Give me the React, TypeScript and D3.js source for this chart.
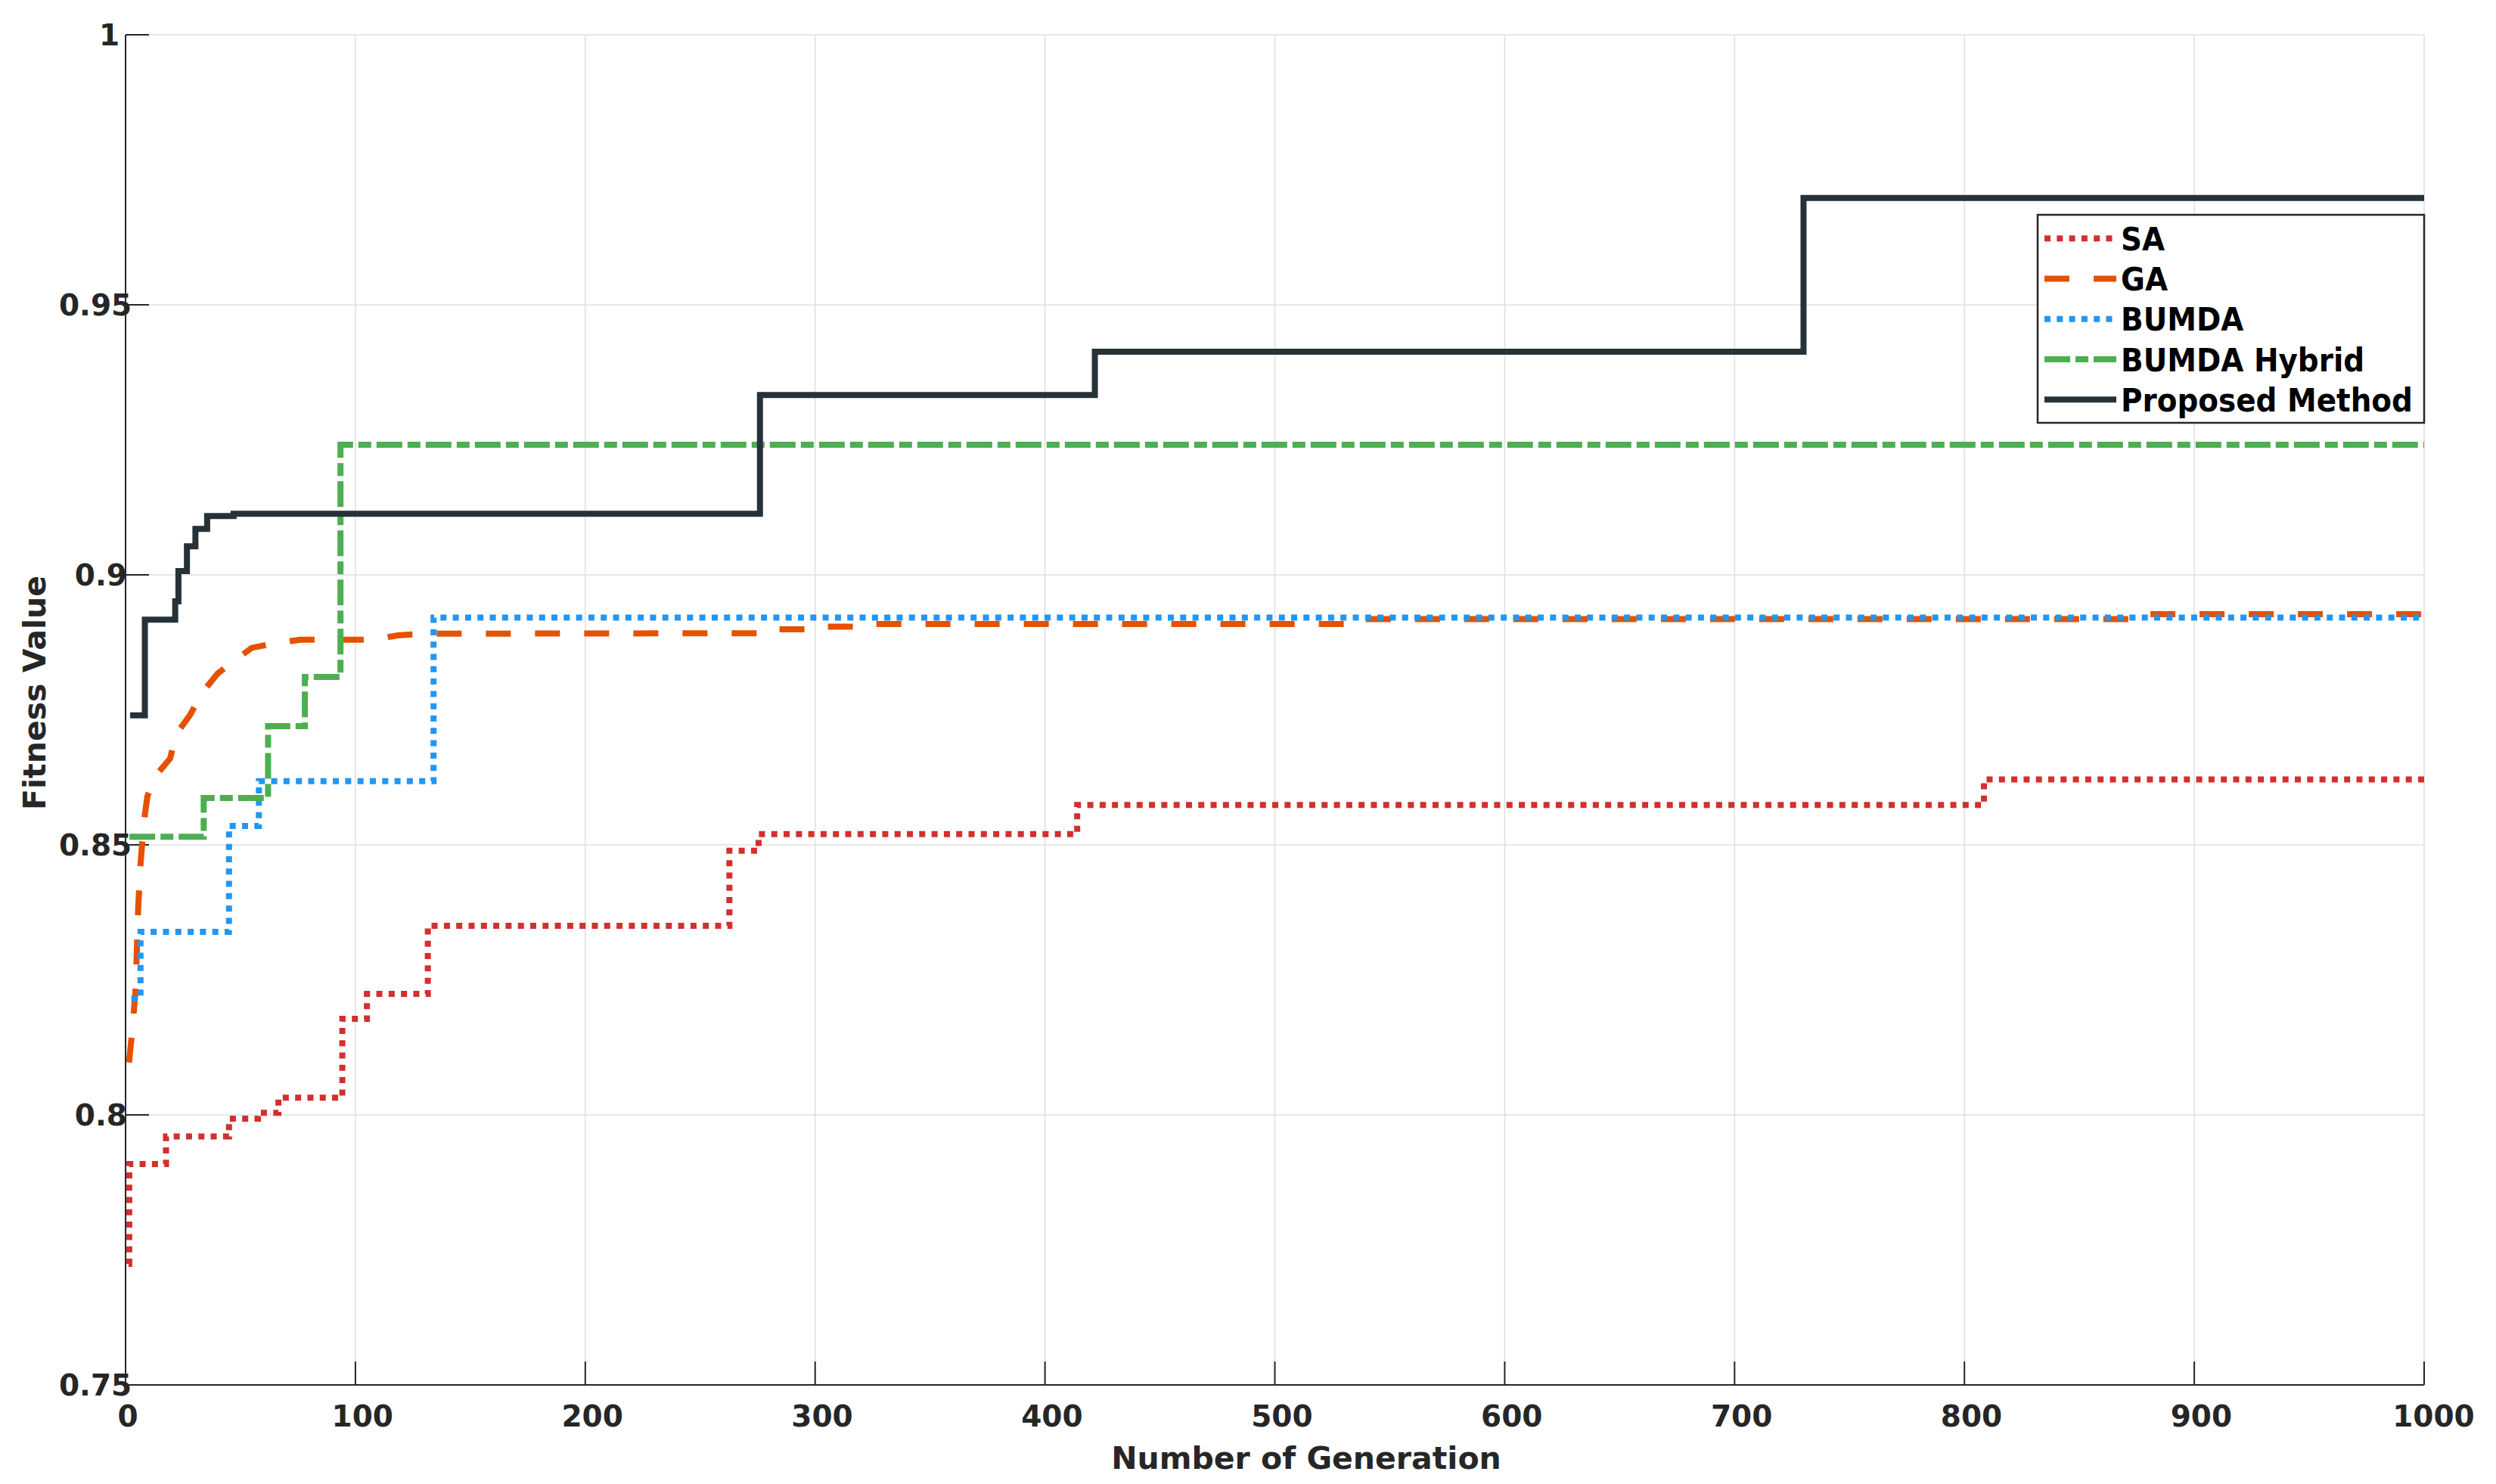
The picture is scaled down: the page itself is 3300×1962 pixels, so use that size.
import React from 'react';
import * as d3 from 'd3';

// ---- data ----
const saGen = [1.3, 1.6, 17.6, 45, 57.6, 66.5, 94.3, 105, 131.5, 262.7, 275.4, 414, 808.5, 1000];
const saVal = [0.7724, 0.7909, 0.796, 0.7993, 0.8004, 0.8032, 0.8178, 0.8224, 0.835, 0.8489, 0.852, 0.8574, 0.8621, 0.8621];

const gaGen = [1.5, 3, 4.4, 5.5, 6.5, 8, 9.5, 13.5, 19.4, 22, 28, 33, 40, 47, 55, 65, 76, 108, 118.5, 130, 279, 281, 300, 302, 321, 323, 535, 537, 878, 880, 1000];
const gaVal = [0.8097, 0.816, 0.8234, 0.8384, 0.8464, 0.8543, 0.859, 0.863, 0.866, 0.8705, 0.874, 0.878, 0.8817, 0.884, 0.8865, 0.8873, 0.888, 0.888, 0.8888, 0.8891, 0.8892, 0.8899, 0.8899, 0.8904, 0.8904, 0.8909, 0.8909, 0.8918, 0.8918, 0.8927, 0.8927];

const bumdaGen = [2.5, 6.5, 45, 58, 134, 1000];
const bumdaVal = [0.8215, 0.8339, 0.8535, 0.8618, 0.8921, 0.8921];

const hybridGen = [1.7, 34, 62, 78, 93.5, 1000];
const hybridVal = [0.8515, 0.8587, 0.872, 0.8811, 0.9241, 0.9241];

const propGen = [2, 8.4, 21.6, 23, 26.7, 30.4, 35.5, 47, 276, 421.7, 730, 1000];
const propVal = [0.874, 0.8917, 0.8951, 0.9007, 0.9053, 0.9085, 0.9109, 0.9113, 0.9333, 0.9413, 0.9698, 0.9698];

const seriesNames = ['SA', 'GA', 'BUMDA', 'BUMDA Hybrid', 'Proposed Method'];
const seriesColors = ['#D32F2F', '#E65100', '#2196F3', '#4CAF50', '#263238'];
const seriesDash = ['8 8.3', '33 32', '8 8.3', '34 7 17 7', ''];

const xTicks = [0, 100, 200, 300, 400, 500, 600, 700, 800, 900, 1000];
const xTickLabels = ['0', '100', '200', '300', '400', '500', '600', '700', '800', '900', '1000'];
const yTicks = [0.75, 0.8, 0.85, 0.9, 0.95, 1];
const yTickLabels = ['0.75', '0.8', '0.85', '0.9', '0.95', '1'];

const xLabel = 'Number of Generation';
const yLabel = 'Fitness Value';

// ---- layout ----
const W = 3300, H = 1962;
const L = 166, R = 3205, T = 46, B = 1831;
const FONT = '"DejaVu Sans", sans-serif';
const TICK_FS = 39;

function textW(s: string, fs: number) {
  let w = 0;
  for (const c of s) w += c === '.' ? 0.38 : 0.696;
  return w * fs;
}

export default function App() {
  const x = d3.scaleLinear().domain([0, 1000]).range([L, R]);
  const y = d3.scaleLinear().domain([0.75, 1]).range([B, T]);

  const mk = (g: number[], v: number[]) => g.map((gg, i) => [gg, v[i]] as [number, number]);
  const stepLine = d3.line<[number, number]>().x(d => x(d[0])).y(d => y(d[1])).curve(d3.curveStepAfter);
  const linLine = d3.line<[number, number]>().x(d => x(d[0])).y(d => y(d[1])).curve(d3.curveLinear);

  const paths = [
    stepLine(mk(saGen, saVal)),
    linLine(mk(gaGen, gaVal)),
    stepLine(mk(bumdaGen, bumdaVal)),
    stepLine(mk(hybridGen, hybridVal)),
    stepLine(mk(propGen, propVal)),
  ];

  const legX0 = 2694, legY0 = 284, legX1 = 3205, legY1 = 559;
  const legRow0 = 315.3, legStep = 53.25;

  return (
    <svg width={W} height={H} style={{ position: 'absolute', left: 0, top: 0, background: '#fff' }}
      xmlns="http://www.w3.org/2000/svg">
      <rect x={0} y={0} width={W} height={H} fill="#fff" />
      {/* grid */}
      <g stroke="#dfdfdf" strokeWidth={1.5}>
        {xTicks.map(t => <line key={'gx' + t} x1={x(t)} x2={x(t)} y1={T} y2={B} />)}
        {yTicks.map(t => <line key={'gy' + t} x1={L} x2={R} y1={y(t)} y2={y(t)} />)}
      </g>
      {/* axes */}
      <g stroke="#262626" strokeWidth={2} fill="none">
        <line x1={L} x2={L} y1={T} y2={B + 1} />
        <line x1={L - 1} x2={R} y1={B} y2={B} />
        {xTicks.map(t => <line key={'tx' + t} x1={x(t)} x2={x(t)} y1={B} y2={B - 31} />)}
        {yTicks.map(t => <line key={'ty' + t} x1={L} x2={L + 31} y1={y(t)} y2={y(t)} />)}
      </g>
      {/* tick labels */}
      <g fontFamily={FONT} fontWeight="bold" fontSize={TICK_FS} fill="#262626">
        {xTicks.map((t, i) => {
          const w = textW(xTickLabels[i], TICK_FS);
          return <text key={'lx' + t} x={x(t) - 0.385 * w} y={1886} textAnchor="start">{xTickLabels[i]}</text>;
        })}
        {yTicks.map((t, i) => {
          const w = textW(yTickLabels[i], TICK_FS);
          return <text key={'ly' + t} x={152 - w / 1.3} y={y(t) + 14} textAnchor="start">{yTickLabels[i]}</text>;
        })}
      </g>
      {/* axis labels */}
      <g fontFamily={FONT} fontWeight="bold" fontSize={41} fill="#262626">
        <text x={1727} y={1942} textAnchor="middle">{xLabel}</text>
        <text transform="translate(60,916) rotate(-90)" textAnchor="middle">{yLabel}</text>
      </g>
      {/* series */}
      <g fill="none" strokeWidth={8} strokeLinecap="butt" strokeLinejoin="miter">
        {paths.map((p, i) => (
          <path key={'s' + i} d={p || ''} stroke={seriesColors[i]}
            strokeDasharray={seriesDash[i] || undefined} />
        ))}
      </g>
      {/* legend */}
      <rect x={legX0} y={legY0} width={legX1 - legX0} height={legY1 - legY0} fill="#fff" stroke="#262626" strokeWidth={2.5} />
      {seriesNames.map((n, i) => {
        const cy = legRow0 + i * legStep;
        return (
          <g key={'leg' + i}>
            <line x1={2703} x2={2798} y1={cy} y2={cy} stroke={seriesColors[i]} strokeWidth={8}
              strokeDasharray={seriesDash[i] || undefined} />
            <g transform={`translate(2804,${cy + 15.5}) scale(0.905,1)`}>
              <text x={0} y={0} fontFamily={FONT} fontWeight="bold" fontSize={43} fill="#000">{n}</text>
            </g>
          </g>
        );
      })}
    </svg>
  );
}
